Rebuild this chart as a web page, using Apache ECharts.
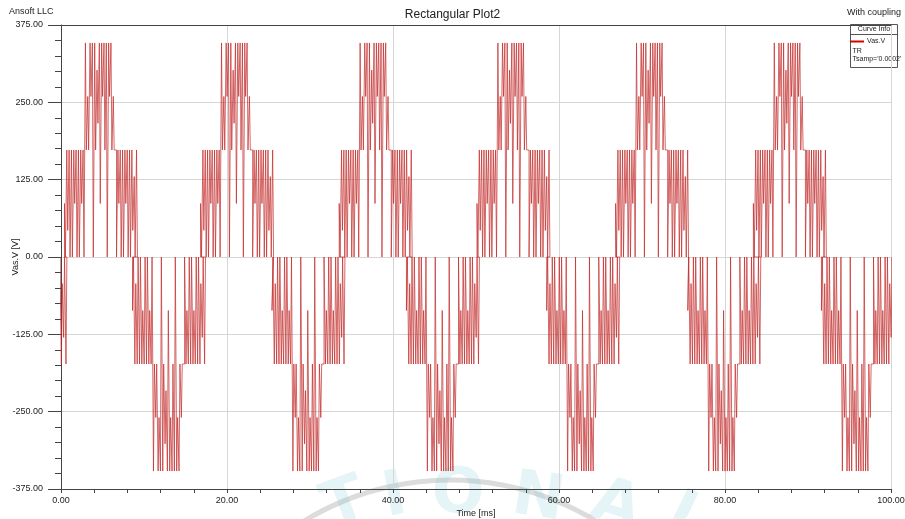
<!DOCTYPE html>
<html>
<head>
<meta charset="utf-8">
<title>Rectangular Plot2</title>
<script src="https://cdn.jsdelivr.net/npm/echarts@6/dist/echarts.min.js"></script>
<style>
  html, body { margin: 0; padding: 0; background: #fff; }
  #plot { width: 905px; height: 519px; }
</style>
</head>
<body>
<div id="plot"></div>
<script>
// voltage steps seen on the trace (V)
const levels = [0, 43, 86.5, 130, 173, 216, 259.5, 302, 346];
// centre of every half-cycle lobe (ms), and its sign
const lobeCentres = [-3.6, 4.9, 13.1, 21.3, 29.9, 38.0, 46.1, 54.6, 63.0, 71.3, 80.0, 87.9, 96.1];
const lobeSigns = [-1, 1, -1, 1, -1, 1, -1, 1, -1, 1, -1, 1, -1];
// pulses inside one lobe: top and base level of each pulse (index into levels)
const pulseTops = [
    2, 4, 4, 4, 4, 4, 4, 4, 4,
    8, 6, 8, 8, 8, 7, 8, 8, 8, 8, 8, 8, 6,
    4, 4, 4, 4, 4, 4, 4, 4, 3, 4
];
const pulseBases = [
    0, 1, 0, 0, 2, 0, 0, 2, 0,
    4, 4, 6, 0, 4, 5, 2, 6, 4, 0, 6, 4, 4,
    0, 2, 0, 0, 2, 0, 0, 1, 0, 0
];
const pulsePeriodMs = 0.28;
const pulseHighMs = 0.11;
const xRange = [0, 100];
const yRange = [-375, 375];

const FONT = '"Liberation Sans Narrow", "Liberation Sans", Arial, sans-serif';

// build the trace as square pulses (vertical edges) from the arrays above
const trace = [];
lobeCentres.forEach((c, k) => {
    const s = lobeSigns[k];
    const t0 = c - pulseTops.length * pulsePeriodMs / 2;
    trace.push([t0, 0]);
    pulseTops.forEach((top, i) => {
        const ts = t0 + i * pulsePeriodMs;
        const hi = s * levels[top];
        const lo = s * levels[pulseBases[i]];
        trace.push([ts, hi], [ts + pulseHighMs, hi], [ts + pulseHighMs, lo], [ts + pulsePeriodMs, lo]);
    });
    trace.push([t0 + pulseTops.length * pulsePeriodMs, 0]);
});

const chart = echarts.init(document.getElementById('plot'), null, { renderer: 'canvas' });

// faint watermark letters at the bottom of the picture
const wmLetters = [
    { ch: 'T', x: 345, y: 505, r: 0.35 },
    { ch: 'I', x: 395, y: 498, r: 0.18 },
    { ch: 'O', x: 458, y: 496, r: 0.0 },
    { ch: 'N', x: 538, y: 500, r: -0.15 },
    { ch: 'A', x: 616, y: 507, r: -0.3 },
    { ch: 'L', x: 688, y: 520, r: -0.45 }
];

const option = {
    animation: false,
    backgroundColor: '#fff',
    title: {
        text: 'Rectangular Plot2',
        left: 'center',
        top: 4,
        textStyle: { fontFamily: FONT, fontSize: 12, fontWeight: 'normal', color: '#222' }
    },
    legend: {
        data: ['Vas.V'],
        left: 850,
        top: 38,
        icon: 'rect',
        itemWidth: 14,
        itemHeight: 2,
        itemGap: 2,
        padding: 0,
        textStyle: { fontFamily: FONT, fontSize: 7, color: '#222', padding: [0, 0, 0, -2] }
    },
    grid: { left: 61, right: 14, top: 25, bottom: 30, containLabel: false, outerBoundsMode: 'none' },
    xAxis: [{
        type: 'value',
        min: xRange[0],
        max: xRange[1],
        interval: 20,
        name: 'Time [ms]',
        nameLocation: 'middle',
        nameGap: 20,
        nameMoveOverlap: false,
        nameTextStyle: { fontFamily: FONT, fontSize: 9, color: '#222' },
        axisLine: { show: true, onZero: false, lineStyle: { color: '#444', width: 1 } },
        axisTick: { show: true, length: 4, lineStyle: { color: '#444' } },
        minorTick: { show: true, splitNumber: 5, length: 4, lineStyle: { color: '#444' } },
        axisLabel: {
            fontFamily: FONT, fontSize: 9, color: '#222', margin: 7,
            formatter: v => v.toFixed(2)
        },
        splitLine: { show: true, lineStyle: { color: '#d6d6d6', width: 1 } }
    }, {
        type: 'value',
        position: 'top',
        min: xRange[0],
        max: xRange[1],
        axisLine: { show: true, onZero: false, lineStyle: { color: '#444', width: 1 } },
        axisTick: { show: false },
        axisLabel: { show: false },
        splitLine: { show: false }
    }],
    yAxis: {
        type: 'value',
        min: yRange[0],
        max: yRange[1],
        interval: 125,
        name: 'Vas.V [V]',
        nameLocation: 'middle',
        nameRotate: 90,
        nameGap: 41,
        nameMoveOverlap: false,
        nameTextStyle: { fontFamily: FONT, fontSize: 9, color: '#222' },
        axisLine: { show: true, onZero: false, lineStyle: { color: '#444', width: 1 } },
        axisTick: { show: true, length: 13, lineStyle: { color: '#444' } },
        minorTick: { show: true, splitNumber: 5, length: 6, lineStyle: { color: '#444' } },
        axisLabel: {
            fontFamily: FONT, fontSize: 9, color: '#222', margin: 18,
            formatter: v => v.toFixed(2)
        },
        splitLine: { show: true, lineStyle: { color: '#d6d6d6', width: 1 } }
    },
    series: [{
        name: 'Vas.V',
        type: 'line',
        data: trace,
        showSymbol: false,
        symbol: 'none',
        clip: true,
        sampling: null,
        lineStyle: { color: 'rgba(195,45,45,0.72)', width: 1 },
        itemStyle: { color: '#d40000' },
        z: 3
    }],
    graphic: [
        {
            type: 'text', left: 9, top: 7,
            style: { text: 'Ansoft LLC', font: '9px ' + FONT, fill: '#222' }
        },
        {
            type: 'text', right: 4, top: 8,
            style: { text: 'With coupling', font: '9px ' + FONT, fill: '#222' }
        },
        {
            type: 'group', left: 848, top: 24, z: 10,
            children: [
                { type: 'rect', shape: { x: 0, y: 0, width: 47, height: 43 },
                  style: { fill: '#fff', stroke: '#555', lineWidth: 1 } },
                { type: 'line', shape: { x1: 0, y1: 10, x2: 47, y2: 10 },
                  style: { stroke: '#555', lineWidth: 1 } },
                { type: 'text', x: 23.5, y: 5,
                  style: { text: 'Curve Info', font: '7px ' + FONT, fill: '#222', align: 'center', verticalAlign: 'middle' } },
                { type: 'text', x: 2, y: 27,
                  style: { text: 'TR', font: '7px ' + FONT, fill: '#222', verticalAlign: 'middle' } },
                { type: 'text', x: 2, y: 35,
                  style: { text: "Tsamp='0.0002'", font: '7px ' + FONT, fill: '#222', verticalAlign: 'middle' } }
            ]
        },
        {
            type: 'group', z: 20, silent: true,
            children: [
                { type: 'arc', shape: { cx: 450, cy: 760, r: 280, startAngle: Math.PI * 1.18, endAngle: Math.PI * 1.82 },
                  style: { stroke: 'rgba(140,140,140,0.3)', lineWidth: 5, fill: null } }
            ].concat(wmLetters.map(l => ({
                type: 'text', x: l.x, y: l.y, rotation: l.r,
                style: { text: l.ch, font: 'bold 62px "DejaVu Sans", sans-serif', fill: 'rgba(110,195,210,0.18)',
                         align: 'center', verticalAlign: 'middle' }
            })))
        }
    ]
};

chart.setOption(option);
</script>
</body>
</html>
